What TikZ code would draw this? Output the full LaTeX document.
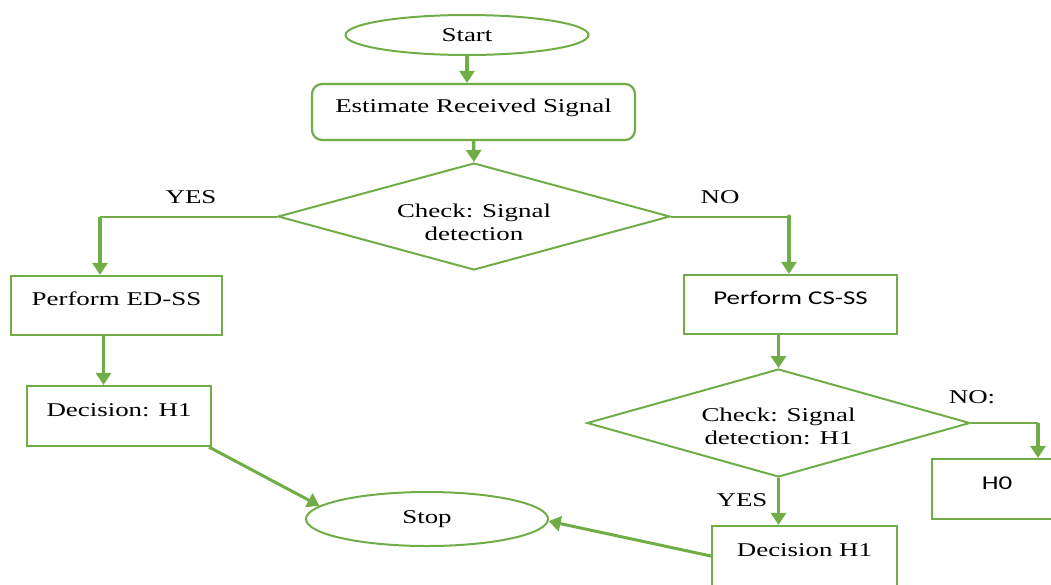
\documentclass[tikz,border=0pt]{standalone}
\usepackage{fontspec}
\setmainfont{Liberation Serif}[FakeStretch=1.38]
\newfontfamily\cfont{Carlito}[FakeStretch=1.38]
\usetikzlibrary{shapes.geometric,arrows.meta}
\definecolor{leaf}{RGB}{112,173,71}
\tikzset{
  every node/.style={font=\fontsize{19.5}{23}\selectfont, text=black},
  term/.style={ellipse, draw=leaf, line width=2pt, inner sep=0pt},
  procbox/.style={rectangle, draw=leaf, line width=2.2pt, inner sep=0pt,
                  text height=8pt, text depth=8pt},
  choice/.style={diamond, draw=leaf, line width=2pt, inner sep=0pt, align=center},
  flow/.style={draw=leaf, line width=3.5pt, -{Triangle[length=12pt,width=15pt]}},
  rail/.style={draw=leaf, line width=2pt},
  tag/.style={inner sep=0pt}
}
\begin{document}
\begin{tikzpicture}[x=1pt, y=-1pt]
  \useasboundingbox (0,0) rectangle (1051,584);
  \clip (0,0) rectangle (1051,584);

  % terminals
  \node[term, minimum width=243pt, minimum height=40pt] (start) at (467,35) {Start};
  \node[term, minimum width=242pt, minimum height=54pt] (stop) at (427,519) {Stop};

  % process boxes
  \node[procbox, rounded corners=10pt, minimum width=323pt, minimum height=56pt]
       (est) at (473.5,112) {Estimate Received Signal};
  \node[procbox, minimum width=211pt, minimum height=59pt] (ed) at (116.5,305.5) {Perform ED-SS};
  \node[procbox, minimum width=184pt, minimum height=60pt] (dec1) at (119,416) {Decision: H1};
  \node[procbox, minimum width=213pt, minimum height=59pt] (cs) at (790.5,304.5) {\cfont Perform CS-SS};
  \node[procbox, minimum width=130pt, minimum height=60pt] (h0) at (997,489) {\cfont H0};
  \node[procbox, minimum width=185pt, minimum height=60pt] (dec2) at (804.5,556) {Decision H1};

  % decisions (the struts push the two text lines slightly down)
  \node[choice, shape aspect=3.66, minimum width=392pt, minimum height=107pt] (d1) at (474,216.5)
       {\rule{0pt}{25pt}Check: Signal\\detection};
  \node[choice, shape aspect=3.55, minimum width=383pt, minimum height=108pt] (d2) at (778.5,423)
       {\rule{0pt}{20pt}Check: Signal\\detection: H1};

  % branch labels
  \node[tag] (yes1) at (191,197) {YES};
  \node[tag] (no1) at (720,197) {NO};
  \node[tag] (no2) at (972,397) {NO:};
  \node[tag] (yes2) at (742,500) {YES};

  % corner points of the branch lines
  \coordinate (yc) at (100,216.5);
  \coordinate (nc) at (789,216.5);
  \coordinate (hc) at (1038,423);

  % main flow
  \draw[flow] (start.south) -- (start.south |- est.north);
  \draw[flow] (est.south) -- (d1.north);

  \draw[rail] (d1.west) -- (yc);
  \draw[flow] (yc) -- (yc |- ed.north);
  \draw[rail] (d1.east) -- (nc);
  \fill[leaf] (nc) circle (2pt);
  \draw[flow] (nc) -- (nc |- cs.north);

  \draw[flow] ([xshift=-13pt]ed.south) -- ([xshift=-13pt]ed.south |- dec1.north);
  \draw[flow, line width=3pt] ([xshift=-3pt]dec1.south east) -- (stop.173);

  \draw[flow] (d2.north |- cs.south) -- (d2.north);
  \draw[rail] (d2.east) -- (hc);
  \draw[flow] (hc) -- (hc |- h0.north);
  \draw[flow] (d2.south) -- (d2.south |- dec2.north);
  \draw[flow, line width=3pt] (dec2.west) -- (stop.-1);
\end{tikzpicture}
\end{document}
